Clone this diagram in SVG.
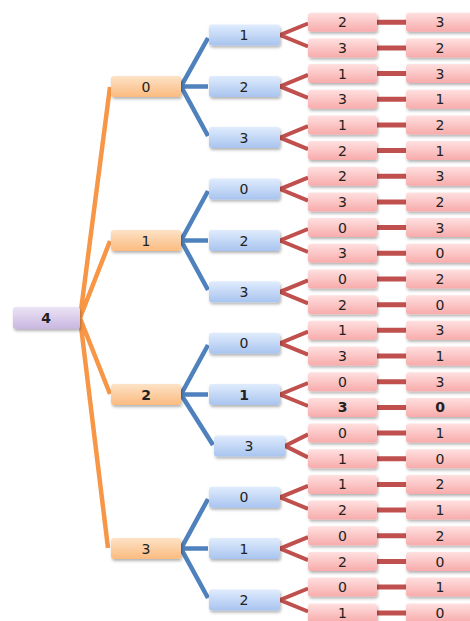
<svg xmlns="http://www.w3.org/2000/svg" width="470" height="621" viewBox="0 0 470 621">
<defs>
<linearGradient id="gP" x1="0" y1="0" x2="0" y2="1"><stop offset="0" stop-color="#ece4f5"/><stop offset="1" stop-color="#c8b6e0"/></linearGradient>
<linearGradient id="gO" x1="0" y1="0" x2="0" y2="1"><stop offset="0" stop-color="#fde2c6"/><stop offset="1" stop-color="#fbbb80"/></linearGradient>
<linearGradient id="gB" x1="0" y1="0" x2="0" y2="1"><stop offset="0" stop-color="#e0ecfd"/><stop offset="1" stop-color="#a8c4ef"/></linearGradient>
<linearGradient id="gR" x1="0" y1="0" x2="0" y2="1"><stop offset="0" stop-color="#ffe0e0"/><stop offset="1" stop-color="#f8abab"/></linearGradient>
<filter id="sh" x="-10%" y="-20%" width="130%" height="170%"><feDropShadow dx="1" dy="2" stdDeviation="1.5" flood-color="#000" flood-opacity="0.3"/></filter>
</defs>
<style>
rect{filter:url(#sh)}
.p{fill:url(#gP)}
.o{fill:url(#gO)}
.b{fill:url(#gB)}
.r{fill:url(#gR)}
text{font-family:"DejaVu Sans",Verdana,sans-serif;font-size:14px;fill:#222;text-anchor:middle}
.bd{font-weight:bold}
.lo{stroke:#f79646;stroke-width:4.5;fill:none}
.lb{stroke:#4f81bd;stroke-width:4.5;fill:none}
.lr{stroke:#c0504d;stroke-width:4;fill:none}
.ld{stroke:#c0504d;stroke-width:5;fill:none}
</style>
<rect width="470" height="621" fill="#fff" style="filter:none"/>
<g id="connectors">
<path class="lo" d="M80,318 L110,87 M80,318 L110,241 M80,318 L110,394 M80,318 L108,548"/>
<path class="lb" d="M181,86.4 L208,38 M181,86.4 L208,86.4 M181,86.4 L208,136"/>
<path class="lb" d="M181,240.5 L208,191 M181,240.5 L208,240.5 M181,240.5 L208,290"/>
<path class="lb" d="M181,394.5 L208,345 M181,394.5 L208,394.5 M181,394.5 L213,445"/>
<path class="lb" d="M181,548.6 L208,499 M181,548.6 L208,548.6 M181,548.6 L208,598"/>
<path class="lr" d="M308,23.5 L280,35 L308,46.5 M308,74.9 L280,86.4 L308,97.9 M308,126.2 L280,137.7 L308,149.2 M308,177.6 L280,189.1 L308,200.6 M308,229 L280,240.5 L308,252 M308,280.3 L280,291.8 L308,303.3 M308,331.7 L280,343.2 L308,354.7 M308,383 L280,394.5 L308,406 M308,434.4 L285,445.9 L308,457.4 M308,485.8 L280,497.3 L308,508.8 M308,537.1 L280,548.6 L308,560.1 M308,588.5 L280,600 L308,611.5"/>
<path class="ld" d="M377,22.2 H406 M377,47.9 H406 M377,73.5 H406 M377,99.2 H406 M377,124.9 H406 M377,150.6 H406 M377,176.2 H406 M377,201.9 H406 M377,227.6 H406 M377,253.3 H406 M377,279 H406 M377,304.7 H406 M377,330.3 H406 M377,356 H406 M377,381.7 H406 M377,407.4 H406 M377,433 H406 M377,458.8 H406 M377,484.4 H406 M377,510.1 H406 M377,535.8 H406 M377,561.5 H406 M377,587.1 H406 M377,612.9 H406"/>
</g>
<g id="root"><rect class="p" x="13" y="307" width="67" height="22" rx="3"/><text class="bd" x="46" y="323">4</text></g>
<g id="n0"><rect class="o" x="111" y="76" width="70" height="21" rx="3"/><text x="146" y="91.5">0</text></g>
<g id="n1"><rect class="o" x="111" y="230" width="70" height="21" rx="3"/><text x="146" y="245.5">1</text></g>
<g id="n2"><rect class="o" x="111" y="384" width="70" height="21" rx="3"/><text class="bd" x="146" y="399.5">2</text></g>
<g id="n3"><rect class="o" x="111" y="538" width="70" height="21" rx="3"/><text x="146" y="553.5">3</text></g>
<g id="n0-1"><rect class="b" x="209" y="24.5" width="71" height="21" rx="3"/><text x="244" y="40">1</text></g>
<g id="n0-2"><rect class="b" x="209" y="76" width="71" height="21" rx="3"/><text x="244" y="91.5">2</text></g>
<g id="n0-3"><rect class="b" x="209" y="127" width="71" height="21" rx="3"/><text x="244" y="142.5">3</text></g>
<g id="n1-0"><rect class="b" x="209" y="178.5" width="71" height="21" rx="3"/><text x="244" y="194">0</text></g>
<g id="n1-2"><rect class="b" x="209" y="230" width="71" height="21" rx="3"/><text x="244" y="245.5">2</text></g>
<g id="n1-3"><rect class="b" x="209" y="281.3" width="71" height="21" rx="3"/><text x="244" y="296.8">3</text></g>
<g id="n2-0"><rect class="b" x="209" y="332.7" width="71" height="21" rx="3"/><text x="244" y="348.2">0</text></g>
<g id="n2-1"><rect class="b" x="209" y="384" width="71" height="21" rx="3"/><text class="bd" x="244" y="399.5">1</text></g>
<g id="n2-3"><rect class="b" x="214" y="435.4" width="71" height="21" rx="3"/><text x="249" y="450.9">3</text></g>
<g id="n3-0"><rect class="b" x="209" y="486.8" width="71" height="21" rx="3"/><text x="244" y="502.3">0</text></g>
<g id="n3-1"><rect class="b" x="209" y="538.1" width="71" height="21" rx="3"/><text x="244" y="553.6">1</text></g>
<g id="n3-2"><rect class="b" x="209" y="589.5" width="71" height="21" rx="3"/><text x="244" y="605">2</text></g>
<g id="leaves">
<g id="l1"><rect class="r" x="308" y="12.7" width="69" height="19" rx="3"/><text x="342.5" y="27.2">2</text><rect class="r" x="406" y="12.7" width="70" height="19" rx="3"/><text x="440" y="27.2">3</text></g>
<g id="l2"><rect class="r" x="308" y="38.4" width="69" height="19" rx="3"/><text x="342.5" y="52.9">3</text><rect class="r" x="406" y="38.4" width="70" height="19" rx="3"/><text x="440" y="52.9">2</text></g>
<g id="l3"><rect class="r" x="308" y="64" width="69" height="19" rx="3"/><text x="342.5" y="78.5">1</text><rect class="r" x="406" y="64" width="70" height="19" rx="3"/><text x="440" y="78.5">3</text></g>
<g id="l4"><rect class="r" x="308" y="89.7" width="69" height="19" rx="3"/><text x="342.5" y="104.2">3</text><rect class="r" x="406" y="89.7" width="70" height="19" rx="3"/><text x="440" y="104.2">1</text></g>
<g id="l5"><rect class="r" x="308" y="115.4" width="69" height="19" rx="3"/><text x="342.5" y="129.9">1</text><rect class="r" x="406" y="115.4" width="70" height="19" rx="3"/><text x="440" y="129.9">2</text></g>
<g id="l6"><rect class="r" x="308" y="141.1" width="69" height="19" rx="3"/><text x="342.5" y="155.6">2</text><rect class="r" x="406" y="141.1" width="70" height="19" rx="3"/><text x="440" y="155.6">1</text></g>
<g id="l7"><rect class="r" x="308" y="166.7" width="69" height="19" rx="3"/><text x="342.5" y="181.2">2</text><rect class="r" x="406" y="166.7" width="70" height="19" rx="3"/><text x="440" y="181.2">3</text></g>
<g id="l8"><rect class="r" x="308" y="192.4" width="69" height="19" rx="3"/><text x="342.5" y="206.9">3</text><rect class="r" x="406" y="192.4" width="70" height="19" rx="3"/><text x="440" y="206.9">2</text></g>
<g id="l9"><rect class="r" x="308" y="218.1" width="69" height="19" rx="3"/><text x="342.5" y="232.6">0</text><rect class="r" x="406" y="218.1" width="70" height="19" rx="3"/><text x="440" y="232.6">3</text></g>
<g id="l10"><rect class="r" x="308" y="243.8" width="69" height="19" rx="3"/><text x="342.5" y="258.3">3</text><rect class="r" x="406" y="243.8" width="70" height="19" rx="3"/><text x="440" y="258.3">0</text></g>
<g id="l11"><rect class="r" x="308" y="269.5" width="69" height="19" rx="3"/><text x="342.5" y="284">0</text><rect class="r" x="406" y="269.5" width="70" height="19" rx="3"/><text x="440" y="284">2</text></g>
<g id="l12"><rect class="r" x="308" y="295.2" width="69" height="19" rx="3"/><text x="342.5" y="309.7">2</text><rect class="r" x="406" y="295.2" width="70" height="19" rx="3"/><text x="440" y="309.7">0</text></g>
<g id="l13"><rect class="r" x="308" y="320.8" width="69" height="19" rx="3"/><text x="342.5" y="335.3">1</text><rect class="r" x="406" y="320.8" width="70" height="19" rx="3"/><text x="440" y="335.3">3</text></g>
<g id="l14"><rect class="r" x="308" y="346.5" width="69" height="19" rx="3"/><text x="342.5" y="361">3</text><rect class="r" x="406" y="346.5" width="70" height="19" rx="3"/><text x="440" y="361">1</text></g>
<g id="l15"><rect class="r" x="308" y="372.2" width="69" height="19" rx="3"/><text x="342.5" y="386.7">0</text><rect class="r" x="406" y="372.2" width="70" height="19" rx="3"/><text x="440" y="386.7">3</text></g>
<g id="l16"><rect class="r" x="308" y="397.9" width="69" height="19" rx="3"/><text class="bd" x="342.5" y="412.4">3</text><rect class="r" x="406" y="397.9" width="70" height="19" rx="3"/><text class="bd" x="440" y="412.4">0</text></g>
<g id="l17"><rect class="r" x="308" y="423.5" width="69" height="19" rx="3"/><text x="342.5" y="438">0</text><rect class="r" x="406" y="423.5" width="70" height="19" rx="3"/><text x="440" y="438">1</text></g>
<g id="l18"><rect class="r" x="308" y="449.3" width="69" height="19" rx="3"/><text x="342.5" y="463.8">1</text><rect class="r" x="406" y="449.3" width="70" height="19" rx="3"/><text x="440" y="463.8">0</text></g>
<g id="l19"><rect class="r" x="308" y="474.9" width="69" height="19" rx="3"/><text x="342.5" y="489.4">1</text><rect class="r" x="406" y="474.9" width="70" height="19" rx="3"/><text x="440" y="489.4">2</text></g>
<g id="l20"><rect class="r" x="308" y="500.6" width="69" height="19" rx="3"/><text x="342.5" y="515.1">2</text><rect class="r" x="406" y="500.6" width="70" height="19" rx="3"/><text x="440" y="515.1">1</text></g>
<g id="l21"><rect class="r" x="308" y="526.3" width="69" height="19" rx="3"/><text x="342.5" y="540.8">0</text><rect class="r" x="406" y="526.3" width="70" height="19" rx="3"/><text x="440" y="540.8">2</text></g>
<g id="l22"><rect class="r" x="308" y="552" width="69" height="19" rx="3"/><text x="342.5" y="566.5">2</text><rect class="r" x="406" y="552" width="70" height="19" rx="3"/><text x="440" y="566.5">0</text></g>
<g id="l23"><rect class="r" x="308" y="577.6" width="69" height="19" rx="3"/><text x="342.5" y="592.1">0</text><rect class="r" x="406" y="577.6" width="70" height="19" rx="3"/><text x="440" y="592.1">1</text></g>
<g id="l24"><rect class="r" x="308" y="603.4" width="69" height="19" rx="3"/><text x="342.5" y="617.9">1</text><rect class="r" x="406" y="603.4" width="70" height="19" rx="3"/><text x="440" y="617.9">0</text></g>
</g>
</svg>
